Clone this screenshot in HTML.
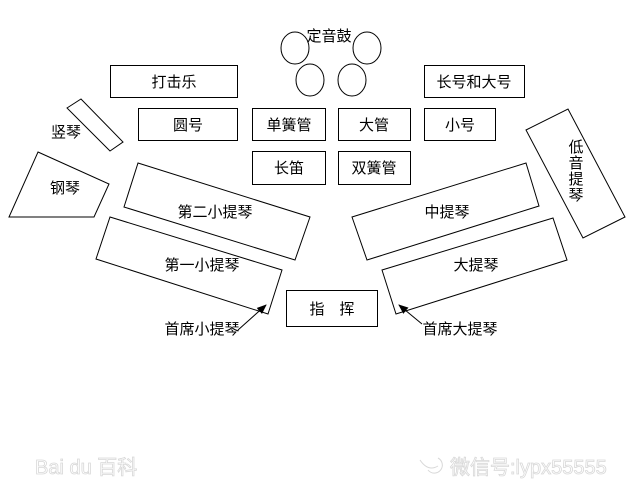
<!DOCTYPE html>
<html><head><meta charset="utf-8"><style>
html,body{margin:0;padding:0;background:#fff;}
svg{display:block;}
text{font-family:"Liberation Sans","Noto Sans CJK SC","WenQuanYi Zen Hei",sans-serif;fill:#000;}
</style></head><body>
<svg width="640" height="491" viewBox="0 0 640 491" xmlns="http://www.w3.org/2000/svg">
<defs><marker id="ah" markerWidth="10" markerHeight="10" refX="9" refY="5" orient="auto" markerUnits="userSpaceOnUse"><path d="M0,1 L10,5 L0,9 z" fill="#000"/></marker></defs>
<g fill="none" stroke="#000" stroke-width="1">
<ellipse cx="295" cy="48" rx="14" ry="16"/>
<ellipse cx="367" cy="48" rx="14" ry="16"/>
<ellipse cx="310" cy="80" rx="14" ry="16"/>
<ellipse cx="352" cy="80" rx="14" ry="16"/>
<rect x="110.5" y="65.5" width="127" height="32"/>
<rect x="424.5" y="65.5" width="100" height="32"/>
<rect x="138.5" y="108.5" width="99" height="32"/>
<rect x="252.5" y="108.5" width="73" height="32"/>
<rect x="338.5" y="108.5" width="72" height="32"/>
<rect x="424.5" y="108.5" width="71" height="32"/>
<rect x="252.5" y="151.5" width="73" height="33"/>
<rect x="338.5" y="151.5" width="72" height="33"/>
<rect x="286.5" y="290.5" width="91" height="36"/>
<polygon points="67,108 81,99 123,142 110,151"/>
<polygon points="38,152 109,184 94,217 9,217"/>
<polygon points="138,163 310,217 295,260 124,207"/>
<polygon points="110,217 282,270 268,314 96,259"/>
<polygon points="352,217 526,163 539,206 367,260"/>
<polygon points="382,270 553,218 567,260 396,314"/>
<polygon points="526,130 568,109 625,217 583,238"/>
<line x1="238" y1="330" x2="266" y2="305" marker-end="url(#ah)"/>
<line x1="422" y1="324" x2="399" y2="305" marker-end="url(#ah)"/>
</g>
<g font-size="15" text-anchor="middle">
<text x="329" y="41">定音鼓</text>
<text x="174" y="87">打击乐</text>
<text x="474" y="87">长号和大号</text>
<text x="188" y="130">圆号</text>
<text x="289" y="130">单簧管</text>
<text x="374" y="130">大管</text>
<text x="460" y="130">小号</text>
<text x="289" y="173">长笛</text>
<text x="374" y="173">双簧管</text>
<text x="66" y="137">竖琴</text>
<text x="65" y="193">钢琴</text>
<text x="215" y="217">第二小提琴</text>
<text x="202" y="270">第一小提琴</text>
<text x="447" y="217">中提琴</text>
<text x="476" y="270">大提琴</text>
<text x="332" y="314">指　挥</text>
<text x="202" y="334">首席小提琴</text>
<text x="460" y="334">首席大提琴</text>
<text x="576" y="152">低</text>
<text x="576" y="168">音</text>
<text x="576" y="184">提</text>
<text x="576" y="200">琴</text>
</g>
<g font-size="20" fill="none" stroke="#d8d8d8" stroke-width="0.8">
<text x="35" y="474" style="fill:none">Bai du 百科</text>
<text x="450" y="474" style="fill:none">微信号:lypx55555</text>
</g>
<path d="M420,460 q8,12 18,6 M428,470 a8,8 0 1,0 10,-12" fill="none" stroke="#d8d8d8" stroke-width="1"/>
</svg>
</body></html>
